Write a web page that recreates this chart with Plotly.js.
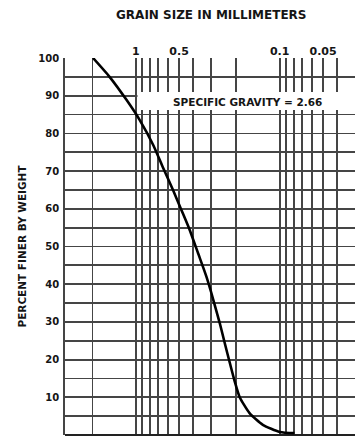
<!DOCTYPE html>
<html>
<head>
<meta charset="utf-8">
<script src="https://cdn.plot.ly/plotly-3.0.1.min.js"></script>
<style>html,body{margin:0;padding:0;background:#fff;}#chart{width:355px;height:440px;}</style>
</head>
<body>
<div id="chart"></div>
<script>
// Grain size (mm) and percent finer by weight
const grainSize = [1.98, 1.52, 1.16, 0.94, 0.758, 0.646, 0.551, 0.482, 0.422, 0.369, 0.323, 0.298, 0.283, 0.261, 0.241, 0.222, 0.205, 0.19, 0.162, 0.131, 0.1, 0.079];
const percentFiner = [100, 95, 88.9, 83.6, 77, 70.9, 65, 59.7, 54.4, 48.2, 42, 37.6, 34.5, 29.7, 24.4, 19.1, 14.1, 10.1, 5.8, 2.7, 0.8, 0.5];
// Vertical grid lines (mm) and their top labels
const xGridVals = [2, 1, 0.9, 0.8, 0.7, 0.6, 0.5, 0.4, 0.3, 0.2, 0.1, 0.09, 0.08, 0.07, 0.06, 0.05, 0.04];
const xLabelVals = [1, 0.5, 0.1, 0.05];
const xLabelText = ['1', '0.5', '0.1', '0.05'];
// Horizontal grid lines (percent) and labels
const yGridVals = [0,5,10,15,20,25,30,35,40,45,50,55,60,65,70,75,80,85,90,95,100];
const yLabelVals = [0,10,20,30,40,50,60,70,80,90,100];
const xRangeMM = [3.1, 0.03];
const noteText = 'SPECIFIC GRAVITY = 2.66';

const ink = '#151515';
const gridCol = '#454545';
const fontFam = 'DejaVu Sans, Arial, sans-serif';

const xTickText = xGridVals.map(v => { const i = xLabelVals.indexOf(v); return i >= 0 ? xLabelText[i] : ''; });
const yTickText = yGridVals.map(v => yLabelVals.indexOf(v) >= 0 ? String(v) : '');

const r0 = Math.log10(xRangeMM[0]), r1 = Math.log10(xRangeMM[1]);
const frac = d => (Math.log10(d) - r0) / (r1 - r0);

const trace = {
  x: grainSize, y: percentFiner, type: 'scatter', mode: 'lines',
  line: {color: '#000', width: 2.6, shape: 'spline', smoothing: 0.6},
  hoverinfo: 'skip'
};

const layout = {
  width: 355, height: 440,
  margin: {l: 65, r: 0, t: 58, b: 5},
  paper_bgcolor: '#fff', plot_bgcolor: '#fff',
  showlegend: false,
  font: {family: fontFam, color: ink},
  xaxis: {
    type: 'log', range: [r0, r1], side: 'top',
    tickmode: 'array', tickvals: xGridVals, ticktext: xTickText,
    showgrid: true, gridcolor: gridCol, gridwidth: 1.8,
    ticks: '', showline: false, zeroline: false,
    tickfont: {size: 11, family: fontFam, color: ink, weight: 'bold'},
    fixedrange: true
  },
  yaxis: {
    range: [0, 100],
    tickmode: 'array', tickvals: yGridVals, ticktext: yTickText,
    showgrid: true, gridcolor: gridCol, gridwidth: 1.8,
    ticks: '', showline: true, linecolor: gridCol, linewidth: 1.8,
    zeroline: true, zerolinecolor: '#222', zerolinewidth: 2.6,
    tickfont: {size: 10, family: fontFam, color: ink, weight: 'bold'},
    ticklabelstandoff: 2,
    title: {text: 'PERCENT FINER BY WEIGHT', font: {size: 10.5, family: fontFam, color: ink, weight: 'bold'}, standoff: 10},
    fixedrange: true
  },
  shapes: [
    {type: 'rect', xref: 'paper', yref: 'y', x0: frac(1.0) + 0.006, x1: 1.0, y0: 86.2, y1: 91,
     fillcolor: '#fff', line: {width: 0}, layer: 'above'}
  ],
  annotations: [
    {text: 'GRAIN SIZE IN MILLIMETERS', xref: 'paper', yref: 'paper', x: (211 - 65) / 290, y: 1, yshift: 43,
     showarrow: false, xanchor: 'center', yanchor: 'middle',
     font: {size: 12, family: fontFam, color: ink, weight: 'bold'}},
    {text: noteText, xref: 'paper', yref: 'y', x: frac(0.167), y: 88.4,
     showarrow: false, xanchor: 'center', yanchor: 'middle',
     font: {size: 10.5, family: fontFam, color: ink, weight: 'bold'}}
  ]
};

Plotly.newPlot('chart', [trace], layout, {displayModeBar: false, staticPlot: true});
</script>
</body>
</html>
